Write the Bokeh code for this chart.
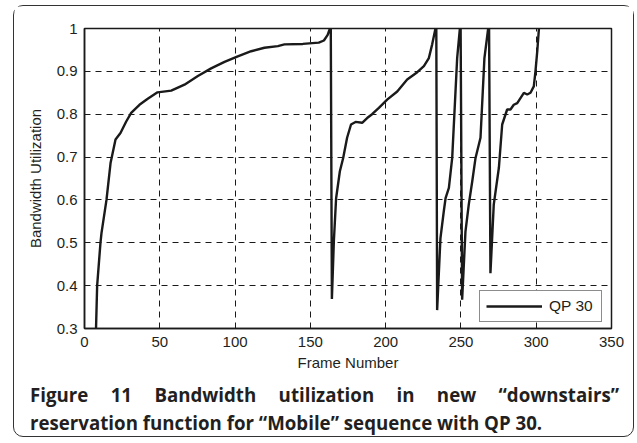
from bokeh.plotting import figure
from bokeh.layouts import column
from bokeh.models import Legend, LegendItem, Div, FixedTicker, Range1d
from bokeh.embed import file_html
from bokeh.resources import INLINE

# ---------------- data ----------------
frames = [7.5, 8.4, 10.6, 11.3, 14.6, 17.3, 20.6, 23.9, 27.7, 31.0, 36.5, 42.0, 48.5,
          57.6, 66.4, 75.3, 84.1, 93.0, 101.8, 110.7, 119.5, 128.4, 132.8, 145.0,
          155.6, 159.0, 161.5, 163.0, 163.5, 164.3, 165.6, 167.1, 169.6, 171.8, 174.4,
          177.0, 180.0, 184.4, 187.7, 191.0, 195.5, 201.0, 207.7, 214.3, 221.0, 225.4,
          228.7, 230.9, 233.1, 233.6, 234.2, 236.4, 238.6, 239.8, 242.0, 244.2, 247.5,
          249.3, 249.7, 250.8, 253.0, 255.2, 257.5, 259.7, 263.0, 265.6, 268.1, 268.6,
          269.6, 271.8, 275.2, 277.4, 280.7, 282.9, 285.1, 287.4, 291.8, 294.0, 296.2,
          298.4, 299.5, 300.7, 301.8, 303.0]
utilization = [0.28, 0.40, 0.50, 0.523, 0.60, 0.686, 0.741, 0.756, 0.783, 0.803, 0.822, 0.836, 0.851,
               0.855, 0.869, 0.889, 0.907, 0.922, 0.935, 0.947, 0.955, 0.959, 0.963, 0.964,
               0.967, 0.972, 0.985, 1.0, 1.06, 0.369, 0.503, 0.604, 0.667, 0.698, 0.745,
               0.776, 0.782, 0.780, 0.791, 0.800, 0.815, 0.834, 0.853, 0.881, 0.898, 0.912,
               0.931, 0.963, 1.0, 1.06, 0.343, 0.511, 0.573, 0.604, 0.628, 0.698, 0.931,
               1.0, 1.06, 0.367, 0.526, 0.589, 0.643, 0.698, 0.745, 0.931, 1.0, 1.06,
               0.429, 0.589, 0.675, 0.776, 0.811, 0.811, 0.822, 0.826, 0.850, 0.846, 0.850,
               0.865, 0.900, 0.947, 1.0, 1.08]
series_name = "QP 30"

x_ticks = [0, 50, 100, 150, 200, 250, 300, 350]
y_ticks = [0.3, 0.4, 0.5, 0.6, 0.7, 0.8, 0.9, 1.0]
x_label = "Frame Number"
y_label = "Bandwidth Utilization"

caption_text = ("Figure 11 Bandwidth utilization in new \u201cdownstairs\u201d "
                "reservation function for \u201cMobile\u201d sequence with QP 30.")

# ---------------- layout ----------------
X0, X1, Y0, Y1 = 0, 350, 0.3, 1.0
TXT = "#231f20"
AX_FONT = "Liberation Sans"

p = figure(width=619, height=372, title=None,
           x_range=Range1d(X0, X1), y_range=Range1d(Y0, Y1),
           output_backend="svg", toolbar_location=None,
           min_border_left=70, min_border_right=22,
           min_border_top=22, min_border_bottom=50)
p.background_fill_color = "white"
p.border_fill_color = "white"
p.outline_line_color = "#1a1a1a"
p.outline_line_width = 1.5

r = p.line(frames, utilization, line_color="#1a1a1a", line_width=2.4)

for ax, ticks in ((p.xaxis[0], x_ticks), (p.yaxis[0], y_ticks)):
    ax.ticker = FixedTicker(ticks=ticks)
    ax.minor_tick_line_color = None
    ax.major_tick_in = 5
    ax.major_tick_out = 0
    ax.major_tick_line_color = "#1a1a1a"
    ax.axis_line_color = "#1a1a1a"
    ax.axis_line_width = 1.5
    ax.major_label_text_font = AX_FONT
    ax.major_label_text_font_size = "15px"
    ax.major_label_text_color = TXT
    ax.axis_label_text_font = AX_FONT
    ax.axis_label_text_font_size = "15px"
    ax.axis_label_text_font_style = "normal"
    ax.axis_label_text_color = TXT

p.xaxis.axis_label = x_label
p.yaxis.axis_label = y_label
p.xaxis.major_label_standoff = 8
p.xaxis.axis_label_standoff = 4
p.yaxis.major_label_standoff = 7
p.yaxis.axis_label_standoff = 10
p.yaxis.major_label_overrides = {1: "1"}

for g in (p.xgrid[0], p.ygrid[0]):
    g.grid_line_color = "#1a1a1a"
    g.grid_line_width = 1
    g.grid_line_dash = "6 5"
p.xgrid.ticker = FixedTicker(ticks=x_ticks)
p.ygrid.ticker = FixedTicker(ticks=y_ticks)

legend = Legend(items=[LegendItem(label=series_name, renderers=[r])],
                location=(395, 6), margin=0, padding=6,
                glyph_width=56, glyph_height=16, label_height=18, label_width=46,
                label_standoff=7,
                label_text_font=AX_FONT, label_text_font_size="15.5px",
                label_text_color=TXT, border_line_color="#1a1a1a", border_line_width=1,
                background_fill_color="white", background_fill_alpha=1)
p.add_layout(legend)

caption = Div(
    text=caption_text,
    width=589, height=55, margin=(3, 0, 0, 16),
    styles={"font-family": "'Open Sans'", "font-weight": "bold", "font-size": "18.7px",
            "line-height": "27.6px", "text-align": "justify", "color": TXT})

root = column(p, caption, spacing=0,
              styles={"margin-left": "13px", "margin-top": "5px",
                      "border": "1.5px solid #333333", "border-radius": "10px",
                      "background-color": "white"})

open("out.html", "w").write(file_html(root, INLINE))
